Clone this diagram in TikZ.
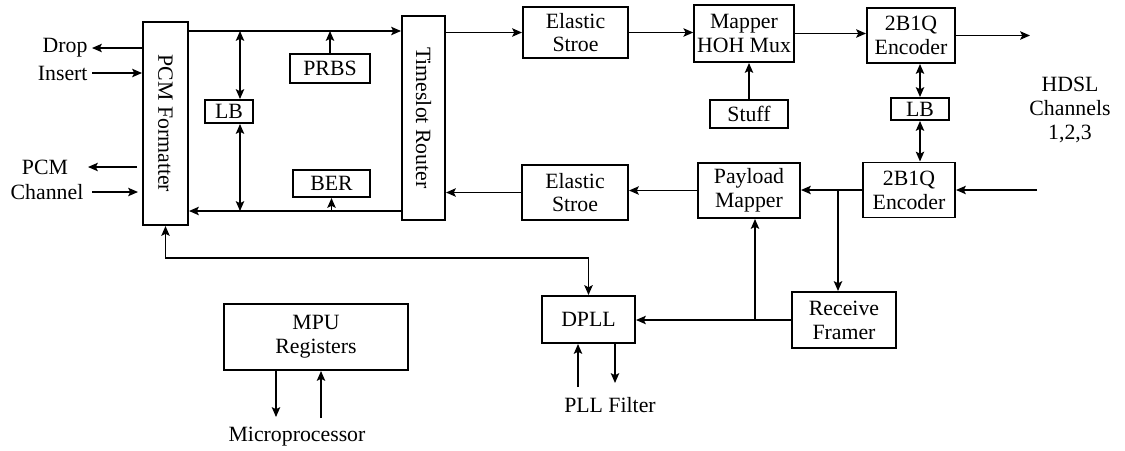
\documentclass[tikz,border=0pt]{standalone}
\usepackage{fontspec}
\setmainfont{Liberation Serif}
\usetikzlibrary{arrows.meta,positioning}

\begin{document}
\begin{tikzpicture}[
    x=0.025cm, y=-0.025cm,
    font=\fontsize{15.5}{17}\selectfont,
    block/.style={rectangle, draw, line width=1.4pt, align=center, inner sep=2pt},
    lbl/.style={inner sep=3pt, align=center},
    arrow/.style={line width=1pt,->,>={Stealth[length=7pt,width=6pt,inset=1.5pt]}},
    dblarrow/.style={line width=1pt,<->,>={Stealth[length=7pt,width=6pt,inset=1.5pt]}}
]
\useasboundingbox (0,0) rectangle (1125,450);

% Define nodes from left to right
\node [block, minimum width=1.125cm, minimum height=5.075cm] (fmt) at (165.5,123.5) {\rotatebox{-90}{PCM Formatter}};
\node [block, minimum width=1.2cm, minimum height=0.575cm] (lbA) at (229,111.5) {LB};
\node [block, minimum width=2cm, minimum height=0.725cm] (prbs) at (330,68.5) {PRBS};
\node [block, minimum width=1.925cm, minimum height=0.675cm] (ber) at (331.5,183.5) {BER};
\node [block, minimum width=1.075cm, minimum height=5.1cm] (tsr) at (423.5,118) {\rotatebox{-90}{Timeslot Router}};
\node [block, minimum width=2.625cm, minimum height=1.275cm] (esT) at (575.5,32.5) {Elastic\\Stroe};
\node [block, minimum width=2.45cm, minimum height=1.425cm] (mux) at (744,33.5) {Mapper\\HOH Mux};
\node [block, minimum width=1.95cm, minimum height=0.7cm] (stuff) at (749,114) {Stuff};
\node [block, minimum width=2.2cm, minimum height=1.375cm] (encT) at (911,35.5) {2B1Q\\Encoder};
\node [block, minimum width=1.45cm, minimum height=0.55cm] (lbB) at (920,109) {LB};
\node [block, minimum width=2.3cm, minimum height=1.375cm] (encB) at (909,190) {2B1Q\\Encoder};
\node [block, minimum width=2.65cm, minimum height=1.375cm] (esB) at (575,192.5) {Elastic\\Stroe};
\node [block, minimum width=2.55cm, minimum height=1.375cm] (pay) at (749,190.5) {Payload\\Mapper};
\node [block, minimum width=2.6cm, minimum height=1.4cm] (rfr) at (844,320) {Receive\\Framer};
\node [block, minimum width=2.325cm, minimum height=1.175cm] (dpll) at (588.5,319.5) {DPLL};
\node [block, minimum width=4.6cm, minimum height=1.65cm] (mpu) at (316,337) {MPU\\Registers};

% Add labels outside the blocks
\node [lbl, anchor=east] (drop) at (92,48) {Drop};
\node [lbl, anchor=east] (insert) at (92,73) {Insert};
\node [lbl] (pcm) at (45,167) {PCM};
\node [lbl] (chan) at (47,192) {Channel};
\node [lbl] (hdsl) at (1070,110) {HDSL\\Channels\\1,2,3};
\node [lbl] (pll) at (610,405) {PLL Filter};
\node [lbl] (upc) at (297,437) {Microprocessor};

% Free ends and bus levels
\coordinate (busT) at (0,31);
\coordinate (busB) at (0,211);
\coordinate (lbx) at (240,0);
\coordinate (clk) at (0,258);
\coordinate (pcmA) at (137,167);
\coordinate (pcmB) at (88,167);
\coordinate (chA) at (92,192);
\coordinate (chB) at (138,192);
\coordinate (hdslOut) at (1030,0);
\coordinate (hdslIn) at (1037,0);
\coordinate (brA) at (838,0);
\coordinate (brB) at (755,0);
\coordinate (pllIn) at (578,387);
\coordinate (pllOut) at (615,383);
\coordinate (upOut) at (276,417);
\coordinate (upIn) at (321,418);

% Draw arrows
\draw [arrow] (fmt.west |- drop.east) -- (drop.east);
\draw [arrow] (insert.east) -- (fmt.west |- insert.east);
\draw [arrow] (pcmA) -- (pcmB);
\draw [arrow] (chA) -- (chB);
\draw [arrow] (fmt.east |- busT) -- (tsr.west |- busT);
\draw [arrow] (tsr.west |- busB) -- (fmt.east |- busB);
\draw [dblarrow] (lbx |- busT) -- (lbx |- lbA.north);
\draw [dblarrow] (lbx |- lbA.south) -- (lbx |- busB);
\draw [arrow] (prbs.north) -- (prbs.north |- busT);
\draw [arrow] (ber.south |- busB) -- (ber.south);
\draw [arrow] (tsr.east |- esT.west) -- (esT.west);
\draw [arrow] (esT.east) -- (esT.east -| mux.west);
\draw [arrow] (mux.east) -- (mux.east -| encT.west);
\draw [arrow] (encT.east) -- (encT.east -| hdslOut);
\draw [arrow] (stuff.north) -- (stuff.north |- mux.south);
\draw [dblarrow] (lbB.north |- encT.south) -- (lbB.north);
\draw [dblarrow] (lbB.south) -- (lbB.south |- encB.north);
\draw [arrow] (hdslIn |- encB.east) -- (encB.east);
\draw [arrow] (encB.west) -- (encB.west -| pay.east);
\draw [arrow] (brA |- encB.west) -- (brA |- rfr.north);
\draw [arrow] (pay.west) -- (pay.west -| esB.east);
\draw [arrow] (esB.west) -- (esB.west -| tsr.east);
\draw [arrow] (rfr.west) -- (rfr.west -| dpll.east);
\draw [arrow] (brB |- rfr.west) -- (brB |- pay.south);
\draw [dblarrow] (fmt.south) -- (fmt.south |- clk) -| (dpll.north);
\draw [arrow] (pllIn) -- (pllIn |- dpll.south);
\draw [arrow] (pllOut |- dpll.south) -- (pllOut);
\draw [arrow] (upOut |- mpu.south) -- (upOut);
\draw [arrow] (upIn) -- (upIn |- mpu.south);

\end{tikzpicture}
\end{document}
